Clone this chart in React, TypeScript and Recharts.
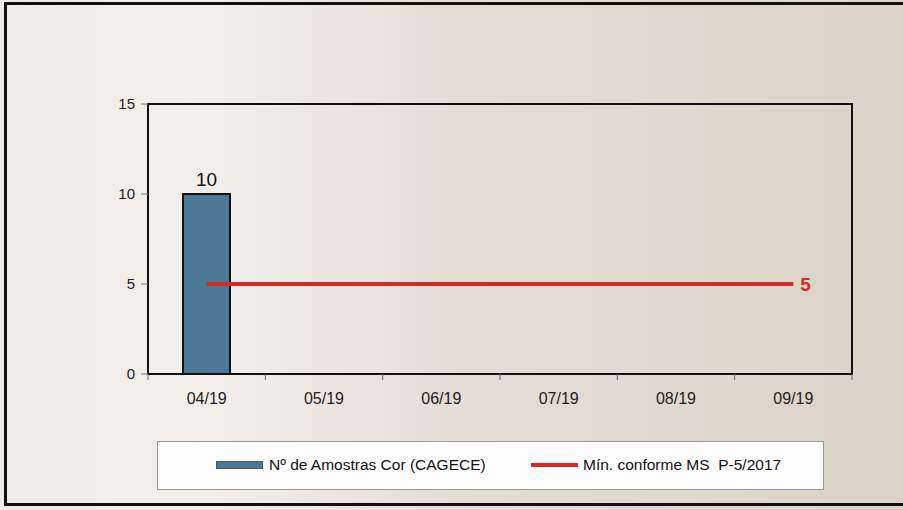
import { ComposedChart, Bar, Line, XAxis, YAxis, LabelList } from 'recharts'

const months = ['04/19', '05/19', '06/19', '07/19', '08/19', '09/19']
const amostras: (number | null)[] = [10, null, null, null, null, null]
const minimo = [5, 5, 5, 5, 5, 5]
const yTicks = [0, 5, 10, 15]

const data = months.map((m, i) => ({ month: m, amostras: amostras[i], min: minimo[i] }))

const W = 903
const H = 510
const PLOT_LEFT = 148
const PLOT_TOP = 104
const PLOT_RIGHT = 51
const PLOT_BOTTOM = 136
const BAND = (W - PLOT_LEFT - PLOT_RIGHT) / months.length
const FONT = '"Liberation Sans", Arial, sans-serif'

const BAR_COLOR = '#4b7895'
const RED = '#d62a2a'

function MonthTick(props: any) {
  const { x, y, payload, index } = props
  const last = index === months.length - 1
  return (
    <g>
      <line x1={x - BAND / 2} x2={x - BAND / 2} y1={y - 8} y2={y - 2} stroke="#666" strokeWidth={1} />
      {last && <line x1={x + BAND / 2} x2={x + BAND / 2} y1={y - 8} y2={y - 2} stroke="#666" strokeWidth={1} />}
      <text x={x} y={y + 22} textAnchor="middle" fontSize={16} fontFamily={FONT} fill="#222">
        {payload.value}
      </text>
    </g>
  )
}

function BarValue(props: any) {
  const { x, y, width, value } = props
  if (value == null) return null
  return (
    <text x={x + width / 2} y={y - 8} textAnchor="middle" fontSize={19} fontFamily={FONT} fill="#111">
      {value}
    </text>
  )
}

function MinValue(props: any) {
  const { x, y, value, index } = props
  if (index !== months.length - 1) return null
  return (
    <text x={x + 7} y={y + 7} textAnchor="start" fontSize={19} fontWeight="bold" fontFamily={FONT} fill={RED}>
      {value}
    </text>
  )
}

export default function App() {
  return (
    <div
      style={{
        position: 'fixed', left: 0, top: 0, width: W, height: H, overflow: 'hidden',
        background: 'linear-gradient(to right, #efece8 0%, #f2efeb 22%, #e4ded5 50%, #dbd3c7 100%)',
        fontFamily: FONT,
      }}
    >
      {/* scanned frame */}
      <div style={{ position: 'absolute', left: 4, top: 2, width: W, height: 504, border: '3px solid #111', boxSizing: 'border-box' }} />
      {/* plot area frame (top / right edges) */}
      <div
        style={{
          position: 'absolute', left: PLOT_LEFT - 1, top: PLOT_TOP - 1,
          width: W - PLOT_LEFT - PLOT_RIGHT + 2, height: H - PLOT_TOP - PLOT_BOTTOM + 2,
          border: '2px solid #111', boxSizing: 'border-box',
        }}
      />

      <ComposedChart
        width={W}
        height={H}
        data={data}
        margin={{ top: PLOT_TOP, right: PLOT_RIGHT, bottom: PLOT_BOTTOM - 30, left: PLOT_LEFT - 40 }}
        style={{ position: 'absolute', left: 0, top: 0 }}
      >
        <XAxis
          dataKey="month"
          height={30}
          axisLine={{ stroke: '#111', strokeWidth: 2 }}
          tickLine={false}
          tick={<MonthTick />}
          interval={0}
        />
        <YAxis
          width={40}
          domain={[0, 15]}
          ticks={yTicks}
          tickSize={7}
          tickMargin={6}
          axisLine={{ stroke: '#111', strokeWidth: 2 }}
          tickLine={{ stroke: '#777', strokeWidth: 1 }}
          tick={{ fontSize: 15, fontFamily: FONT, fill: '#222' }}
        />
        <Bar dataKey="amostras" barSize={47} fill={BAR_COLOR} stroke="#111" strokeWidth={2} isAnimationActive={false}>
          <LabelList dataKey="amostras" content={<BarValue />} />
        </Bar>
        <Line dataKey="min" stroke={RED} strokeWidth={4} dot={false} isAnimationActive={false} type="linear">
          <LabelList dataKey="min" content={<MinValue />} />
        </Line>
      </ComposedChart>

      {/* legend */}
      <div
        style={{
          position: 'absolute', left: 157, top: 441, width: 667, height: 49,
          background: '#fdfdfd', border: '1px solid #999', boxSizing: 'border-box',
          fontSize: 15.5, color: '#111',
        }}
      >
        <div style={{ position: 'absolute', left: 58, top: 19, width: 47, height: 8, background: BAR_COLOR, border: '1px solid #555', boxSizing: 'border-box' }} />
        <div style={{ position: 'absolute', left: 111, top: 14, whiteSpace: 'nowrap' }}>Nº de Amostras Cor (CAGECE)</div>
        <div style={{ position: 'absolute', left: 373, top: 21, width: 47, height: 4, background: RED }} />
        <div style={{ position: 'absolute', left: 425, top: 14, whiteSpace: 'pre' }}>Mín. conforme MS  P-5/2017</div>
      </div>
    </div>
  )
}
